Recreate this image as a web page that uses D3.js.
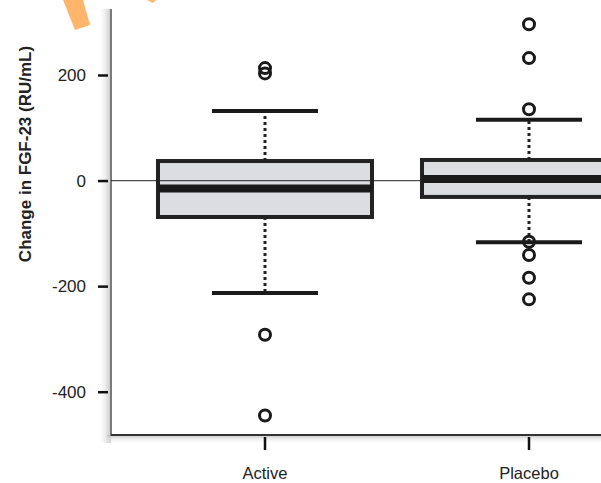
<!DOCTYPE html>
<html>
<head>
<meta charset="utf-8">
<script src="https://cdn.jsdelivr.net/npm/d3@7"></script>
<style>
  body { margin: 0; background: #fff; }
  text { font-family: "Liberation Sans", Arial, sans-serif; }
</style>
</head>
<body>
<div id="chart"></div>
<script>
// data
var groups = ["Active", "Placebo"];
var q1 = [-69, -31];
var medians = [-15, 3];
var q3 = [37, 39];
var whiskLow = [-213, -117];
var whiskHigh = [132, 115];
var outliers = [
  [213, 203, -292, -445],
  [296, 232, 135, -116, -141, -184, -225]
];
var yTicks = [200, 0, -200, -400];

var width = 601, height = 483;
var plotLeft = 111, plotTop = 9, plotBottom = 435;

var svg = d3.select("#chart").append("svg")
  .attr("width", width)
  .attr("height", height);

var defs = svg.append("defs");
var gl = defs.append("linearGradient").attr("id", "shadeLeft")
  .attr("x1", "0").attr("x2", "1").attr("y1", "0").attr("y2", "0");
gl.append("stop").attr("offset", "0").attr("stop-color", "#fff").attr("stop-opacity", 0);
gl.append("stop").attr("offset", "1").attr("stop-color", "#c4c4c4");
var gb = defs.append("linearGradient").attr("id", "shadeBottom")
  .attr("x1", "0").attr("x2", "0").attr("y1", "0").attr("y2", "1");
gb.append("stop").attr("offset", "0").attr("stop-color", "#c4c4c4");
gb.append("stop").attr("offset", "1").attr("stop-color", "#fff").attr("stop-opacity", 0);

// orange scribble cut off at the top
svg.append("path")
  .attr("d", "M63,0 L83,0 L90,25 L75,30 Z")
  .attr("fill", "#ffb56c");
svg.append("path")
  .attr("d", "M147,0 L156,0 L153,3 Z")
  .attr("fill", "#ffb56c");

var x = d3.scaleBand()
  .domain(groups)
  .range([133, 661])
  .padding(0);
var bw = x.bandwidth();

var y = d3.scaleLinear()
  .domain([-482, 325])
  .range([plotBottom, plotTop]);

// axis shadows
svg.append("rect")
  .attr("x", plotLeft - 13).attr("y", plotTop)
  .attr("width", 13).attr("height", plotBottom - plotTop + 8)
  .attr("fill", "url(#shadeLeft)");
svg.append("rect")
  .attr("x", plotLeft - 4).attr("y", plotBottom)
  .attr("width", width).attr("height", 9)
  .attr("fill", "url(#shadeBottom)");

// axes
var yAxis = svg.append("g")
  .attr("transform", "translate(" + (plotLeft - 3) + ",0)")
  .call(d3.axisLeft(y).tickValues(yTicks).tickSize(10).tickPadding(12).tickFormat(function(d) { return String(d); }));
yAxis.select(".domain").remove();
yAxis.selectAll(".tick line").attr("stroke", "#111").attr("stroke-width", 2.5);
yAxis.selectAll(".tick text").attr("font-size", 17).attr("fill", "#222");

svg.append("line")
  .attr("x1", plotLeft).attr("x2", plotLeft)
  .attr("y1", plotTop).attr("y2", plotBottom + 1)
  .attr("stroke", "#7a7a7a").attr("stroke-width", 2);

var xAxis = svg.append("g")
  .attr("transform", "translate(0," + (plotBottom + 2) + ")")
  .call(d3.axisBottom(x).tickSize(13).tickPadding(17));
xAxis.select(".domain").remove();
xAxis.selectAll(".tick line").attr("stroke", "#111").attr("stroke-width", 2.5);
xAxis.selectAll(".tick text").attr("font-size", 16.5).attr("fill", "#222");

svg.append("line")
  .attr("x1", plotLeft).attr("x2", width)
  .attr("y1", plotBottom).attr("y2", plotBottom)
  .attr("stroke", "#333").attr("stroke-width", 2);

// y label
svg.append("text")
  .attr("transform", "translate(31," + 154 + ") rotate(-90)")
  .attr("text-anchor", "middle")
  .attr("font-size", 17)
  .attr("font-weight", "bold")
  .attr("fill", "#222")
  .text("Change in FGF-23 (RU/mL)");

// boxes
var boxW = 214, capW = 106;
var g = svg.append("g");
groups.forEach(function(grp, i) {
  var cx = x(grp) + bw / 2;

  // whiskers (dotted)
  g.append("line")
    .attr("x1", cx).attr("x2", cx)
    .attr("y1", y(q3[i])).attr("y2", y(whiskHigh[i]))
    .attr("stroke", "#222").attr("stroke-width", 3)
    .attr("stroke-dasharray", "3,3");
  g.append("line")
    .attr("x1", cx).attr("x2", cx)
    .attr("y1", y(q1[i])).attr("y2", y(whiskLow[i]))
    .attr("stroke", "#222").attr("stroke-width", 3)
    .attr("stroke-dasharray", "3,3");

  // caps
  [whiskHigh[i], whiskLow[i]].forEach(function(v) {
    g.append("line")
      .attr("x1", cx - capW / 2).attr("x2", cx + capW / 2)
      .attr("y1", y(v)).attr("y2", y(v))
      .attr("stroke", "#1a1a1a").attr("stroke-width", 4);
  });

  g.append("rect")
    .attr("x", cx - boxW / 2)
    .attr("y", y(q3[i]))
    .attr("width", boxW)
    .attr("height", y(q1[i]) - y(q3[i]))
    .attr("fill", "#dcdde0")
    .attr("stroke", "#222")
    .attr("stroke-width", 4);
});

// zero reference line
svg.append("line")
  .attr("x1", plotLeft).attr("x2", width)
  .attr("y1", y(0)).attr("y2", y(0))
  .attr("stroke", "#222").attr("stroke-width", 1.2)
  .attr("stroke-opacity", 0.8);

groups.forEach(function(grp, i) {
  var cx = x(grp) + bw / 2;
  svg.append("line")
    .attr("x1", cx - boxW / 2).attr("x2", cx + boxW / 2)
    .attr("y1", y(medians[i])).attr("y2", y(medians[i]))
    .attr("stroke", "#1a1a1a").attr("stroke-width", 8);

  svg.selectAll(".out" + i)
    .data(outliers[i])
    .enter().append("circle")
    .attr("class", "out" + i)
    .attr("cx", cx)
    .attr("cy", function(d) { return y(d); })
    .attr("r", 5.5)
    .attr("fill", "none")
    .attr("stroke", "#1a1a1a")
    .attr("stroke-width", 3);
});
</script>
</body>
</html>
